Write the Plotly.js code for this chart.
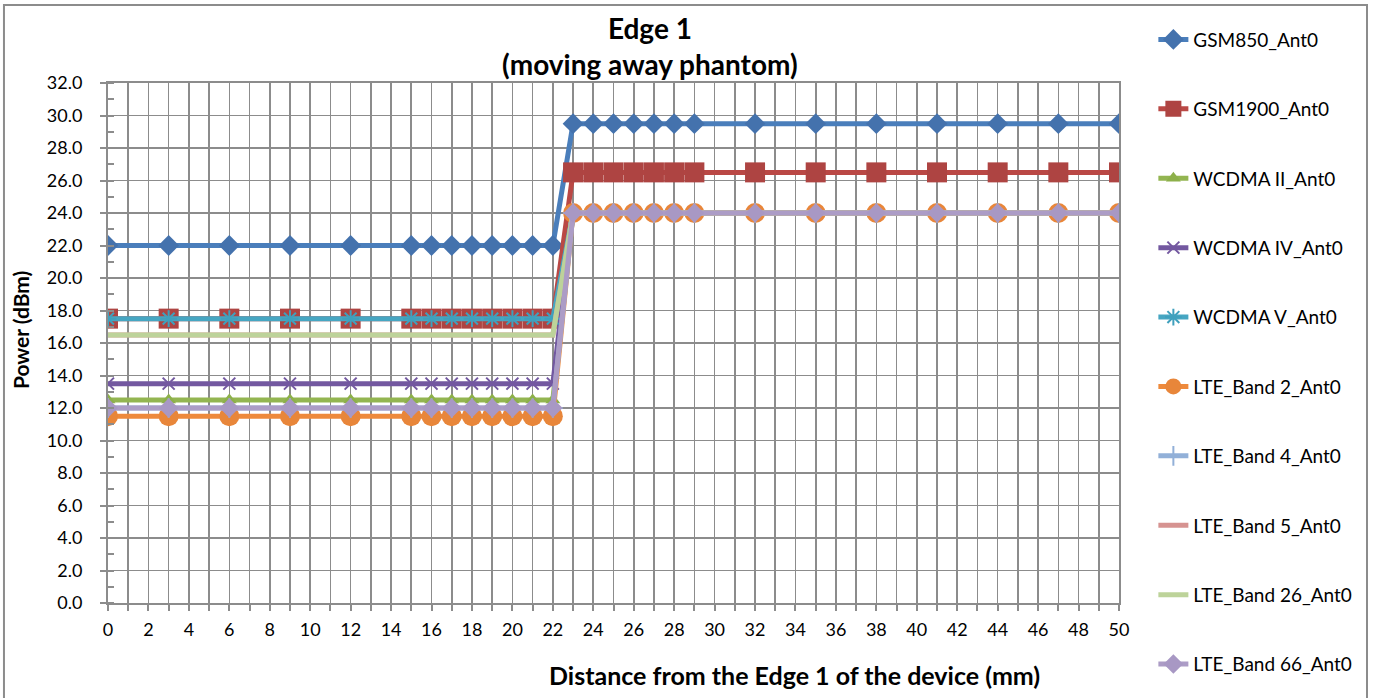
<!DOCTYPE html>
<html>
<head>
<meta charset="utf-8">
<script src="https://cdn.plot.ly/plotly-3.0.1.min.js"></script>
<style>
  html, body { margin: 0; padding: 0; background: #ffffff; }
  #chart { width: 1376px; height: 698px; }
</style>
</head>
<body>
<div id="chart"></div>
<script>
// Distance from the Edge 1 of the device (mm)
const distance = [0, 3, 6, 9, 12, 15, 16, 17, 18, 19, 20, 21, 22, 23, 24, 25, 26, 27, 28, 29, 32, 35, 38, 41, 44, 47, 50];

// Power (dBm) per series
const gsm850   = [22.0, 22.0, 22.0, 22.0, 22.0, 22.0, 22.0, 22.0, 22.0, 22.0, 22.0, 22.0, 22.0, 29.5, 29.5, 29.5, 29.5, 29.5, 29.5, 29.5, 29.5, 29.5, 29.5, 29.5, 29.5, 29.5, 29.5];
const gsm1900  = [17.5, 17.5, 17.5, 17.5, 17.5, 17.5, 17.5, 17.5, 17.5, 17.5, 17.5, 17.5, 17.5, 26.5, 26.5, 26.5, 26.5, 26.5, 26.5, 26.5, 26.5, 26.5, 26.5, 26.5, 26.5, 26.5, 26.5];
const wcdmaII  = [12.5, 12.5, 12.5, 12.5, 12.5, 12.5, 12.5, 12.5, 12.5, 12.5, 12.5, 12.5, 12.5, 24.0, 24.0, 24.0, 24.0, 24.0, 24.0, 24.0, 24.0, 24.0, 24.0, 24.0, 24.0, 24.0, 24.0];
const wcdmaIV  = [13.5, 13.5, 13.5, 13.5, 13.5, 13.5, 13.5, 13.5, 13.5, 13.5, 13.5, 13.5, 13.5, 24.0, 24.0, 24.0, 24.0, 24.0, 24.0, 24.0, 24.0, 24.0, 24.0, 24.0, 24.0, 24.0, 24.0];
const wcdmaV   = [17.5, 17.5, 17.5, 17.5, 17.5, 17.5, 17.5, 17.5, 17.5, 17.5, 17.5, 17.5, 17.5, 24.0, 24.0, 24.0, 24.0, 24.0, 24.0, 24.0, 24.0, 24.0, 24.0, 24.0, 24.0, 24.0, 24.0];
const lteB2    = [11.5, 11.5, 11.5, 11.5, 11.5, 11.5, 11.5, 11.5, 11.5, 11.5, 11.5, 11.5, 11.5, 24.0, 24.0, 24.0, 24.0, 24.0, 24.0, 24.0, 24.0, 24.0, 24.0, 24.0, 24.0, 24.0, 24.0];
const lteB4    = [12.0, 12.0, 12.0, 12.0, 12.0, 12.0, 12.0, 12.0, 12.0, 12.0, 12.0, 12.0, 12.0, 24.0, 24.0, 24.0, 24.0, 24.0, 24.0, 24.0, 24.0, 24.0, 24.0, 24.0, 24.0, 24.0, 24.0];
const lteB5    = [16.5, 16.5, 16.5, 16.5, 16.5, 16.5, 16.5, 16.5, 16.5, 16.5, 16.5, 16.5, 16.5, 24.0, 24.0, 24.0, 24.0, 24.0, 24.0, 24.0, 24.0, 24.0, 24.0, 24.0, 24.0, 24.0, 24.0];
const lteB26   = [16.5, 16.5, 16.5, 16.5, 16.5, 16.5, 16.5, 16.5, 16.5, 16.5, 16.5, 16.5, 16.5, 24.0, 24.0, 24.0, 24.0, 24.0, 24.0, 24.0, 24.0, 24.0, 24.0, 24.0, 24.0, 24.0, 24.0];
const lteB66   = [12.0, 12.0, 12.0, 12.0, 12.0, 12.0, 12.0, 12.0, 12.0, 12.0, 12.0, 12.0, 12.0, 24.0, 24.0, 24.0, 24.0, 24.0, 24.0, 24.0, 24.0, 24.0, 24.0, 24.0, 24.0, 24.0, 24.0];

const seriesNames = ['GSM850_Ant0', 'GSM1900_Ant0', 'WCDMA II_Ant0', 'WCDMA IV_Ant0', 'WCDMA V_Ant0',
                     'LTE_Band 2_Ant0', 'LTE_Band 4_Ant0', 'LTE_Band 5_Ant0', 'LTE_Band 26_Ant0', 'LTE_Band 66_Ant0'];
const seriesValues = [gsm850, gsm1900, wcdmaII, wcdmaIV, wcdmaV, lteB2, lteB4, lteB5, lteB26, lteB66];

const xTickVals = [0, 2, 4, 6, 8, 10, 12, 14, 16, 18, 20, 22, 24, 26, 28, 30, 32, 34, 36, 38, 40, 42, 44, 46, 48, 50];

// styles (kept apart from data)
const styles = [
  {line: '#4A7EBB', marker: {symbol: 'diamond', size: 16, color: '#4472AD', line: {width: 0}}},
  {line: '#BA4845', marker: {symbol: 'square', size: 20, color: '#AE4442', line: {width: 0}}},
  {line: '#93B551', marker: {symbol: 'triangle-up', size: 13, color: '#8DB04A', line: {width: 0}}},
  {line: '#7358A0', marker: {symbol: 'x-thin-open', size: 12, color: '#7358A0', line: {width: 2, color: '#7358A0'}}},
  {line: '#46A6C2', marker: {symbol: 'asterisk-open', size: 14, color: '#3FA0BD', line: {width: 2, color: '#3FA0BD'}}},
  {line: '#EE8A3C', marker: {symbol: 'circle', size: 20, color: '#E8863A', line: {width: 0}}},
  {line: '#92B0D8', marker: {symbol: 'cross-thin-open', size: 14, color: '#92B0D8', line: {width: 2, color: '#92B0D8'}}},
  {line: '#D69391', marker: null},
  {line: '#BDD39A', marker: null},
  {line: '#AC9CC6', marker: {symbol: 'diamond', size: 15, color: '#A898C4', line: {width: 0}}}
];

const traces = seriesNames.map((name, i) => {
  const st = styles[i];
  const t = {
    type: 'scatter',
    x: distance,
    y: seriesValues[i],
    name: name,
    legendgroup: 'g' + i,
    mode: st.marker ? 'lines+markers' : 'lines',
    line: {color: st.line, width: 5},
    hoverinfo: 'x+y+name'
  };
  if (st.marker) t.marker = st.marker;
  return t;
});

const gridColor = '#8C8C8C';
const fontFam = 'Lato, "Open Sans", "DejaVu Sans", sans-serif';

const layout = {
  width: 1376,
  height: 698,
  margin: {l: 108, r: 257, t: 83, b: 95, pad: 0},
  paper_bgcolor: '#ffffff',
  plot_bgcolor: '#ffffff',
  font: {family: fontFam, color: '#000000', size: 18},
  showlegend: true,
  title: {
    text: '<b>Edge 1</b><br><b>(moving away phantom)</b>',
    font: {family: fontFam, size: 28, color: '#000000'},
    xref: 'paper', x: 0.536, xanchor: 'center',
    yref: 'container', y: 0.9440, yanchor: 'middle'
  },
  xaxis: {
    type: 'linear',
    range: [0, 50],
    tickmode: 'array',
    tickvals: xTickVals,
    ticktext: xTickVals.map(String),
    ticks: 'outside', ticklen: 6, tickwidth: 2, tickcolor: gridColor,
    ticklabelstandoff: 3,
    tickfont: {family: fontFam, size: 18, color: '#000000'},
    showgrid: true, gridcolor: gridColor, gridwidth: 1.6,
    minor: {dtick: 1, tick0: 0, ticks: 'outside', ticklen: 6, tickwidth: 2, tickcolor: gridColor,
            showgrid: true, gridcolor: gridColor, gridwidth: 1.6},
    showline: true, linecolor: gridColor, linewidth: 2, mirror: true,
    zeroline: false,
    fixedrange: true
  },
  yaxis: {
    range: [0, 32],
    dtick: 2, tick0: 0,
    tickformat: '.1f',
    ticks: 'outside', ticklen: 6, tickwidth: 2, tickcolor: gridColor,
    ticklabelstandoff: 14,
    tickfont: {family: fontFam, size: 18, color: '#000000'},
    showgrid: true, gridcolor: gridColor, gridwidth: 1.6,
    minor: {dtick: 1, tick0: 0, ticks: 'inside', ticklen: 6, tickwidth: 2, tickcolor: gridColor, showgrid: false},
    showline: true, linecolor: gridColor, linewidth: 2, mirror: true,
    zeroline: false,
    fixedrange: true
  },
  legend: {
    x: 1.034, xanchor: 'left',
    y: 1.12, yanchor: 'top',
    font: {family: fontFam, size: 19, color: '#000000'},
    tracegroupgap: 41.7,
    maxheight: 1000,
    bgcolor: 'rgba(0,0,0,0)',
    borderwidth: 0
  },
  annotations: [
    {
      text: '<b>Distance from the Edge 1 of the device (mm)</b>',
      xref: 'paper', yref: 'paper',
      x: 0.6795, y: -0.1385, xanchor: 'center', yanchor: 'middle',
      showarrow: false,
      font: {family: fontFam, size: 25, color: '#000000'}
    },
    {
      text: '<b>Power (dBm)</b>',
      xref: 'paper', yref: 'paper',
      x: -0.087, y: 0.525, xanchor: 'center', yanchor: 'middle',
      textangle: -90,
      showarrow: false,
      font: {family: fontFam, size: 21, color: '#000000'}
    }
  ],
  shapes: [
    {
      type: 'rect', xref: 'paper', yref: 'paper',
      x0: -0.1029, x1: 1.2453, y0: -0.19, y1: 1.15,
      line: {color: '#8C8C8C', width: 2},
      fillcolor: 'rgba(0,0,0,0)',
      layer: 'below'
    }
  ]
};

Plotly.newPlot('chart', traces, layout, {displayModeBar: false, staticPlot: true});
</script>
</body>
</html>
